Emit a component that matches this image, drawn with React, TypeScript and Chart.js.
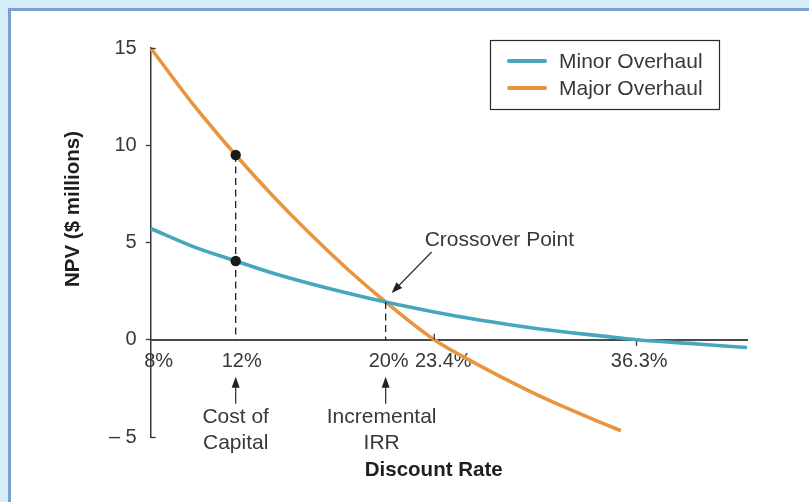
import React, { useEffect, useRef } from 'react';
import { Chart, LinearScale, registerables } from 'chart.js';

// ---------------- data ----------------
const minorRates = [8, 10, 12, 14, 16, 18, 20, 23.4, 26, 28, 30, 32, 34, 36.3, 40, 43];
const minorNPV = [5.72, 4.79, 4.05, 3.42, 2.88, 2.39, 1.94, 1.43, 1.05, 0.8, 0.57, 0.37, 0.2, 0, -0.22, -0.4];
const majorRates = [8, 10, 12, 14, 16, 18, 20, 23.4, 26, 28, 30, 32, 34, 35.3];
const majorNPV = [15, 12.1, 9.5, 7.38, 5.42, 3.6, 1.94, 0, -1.2, -2.05, -2.85, -3.57, -4.25, -4.68];
const xTicks = [8, 12, 20, 23.4, 36.3];
const yTicks = [-5, 0, 5, 10, 15];
const seriesLabels = ['Minor Overhaul', 'Major Overhaul'];
const costOfCapital = 12;
const crossoverRate = 20;
const crossoverNPV = 1.94;
const costOfCapitalNPV = [9.5, 4.05]; // major, minor at 12%

// ---------------- styles ----------------
const TEAL = '#46a6bc';
const ORANGE = '#e8953f';
const INK = '#383838';
const FONT = '"Liberation Sans", Arial, Helvetica, sans-serif';

// Non-uniform (not-to-scale) discount-rate axis, as drawn in the textbook figure.
const AXIS_KNOTS = [8, 12, 20, 23.4, 36.3, 43];
const AXIS_FRACS = [0, 0.1425, 0.394, 0.4755, 0.815, 1];
// small horizontal nudges of the x tick labels (px), as typeset in the figure
const X_LABEL_NUDGE = [8, 6, 3, 9, 2.5];

function toFrac(v: number) {
  const k = AXIS_KNOTS, f = AXIS_FRACS;
  if (v <= k[0]) return f[0] + ((v - k[0]) * (f[1] - f[0])) / (k[1] - k[0]);
  for (let i = 1; i < k.length; i++) {
    if (v <= k[i]) return f[i - 1] + ((v - k[i - 1]) * (f[i] - f[i - 1])) / (k[i] - k[i - 1]);
  }
  const n = k.length - 1;
  return f[n] + ((v - k[n]) * (f[n] - f[n - 1])) / (k[n] - k[n - 1]);
}
function fromFrac(t: number) {
  const k = AXIS_KNOTS, f = AXIS_FRACS;
  for (let i = 1; i < f.length; i++) {
    if (t <= f[i] || i === f.length - 1) return k[i - 1] + ((t - f[i - 1]) * (k[i] - k[i - 1])) / (f[i] - f[i - 1]);
  }
  return k[0];
}

class PiecewiseScale extends LinearScale {
  static id = 'piecewise';
  static defaults = (LinearScale as any).defaults;
  getPixelForValue(value: number) {
    if (value === null || value === undefined || isNaN(value)) return NaN;
    return (this as any).getPixelForDecimal(toFrac(value));
  }
  getValueForPixel(pixel: number) {
    return fromFrac((this as any).getDecimalForPixel(pixel));
  }
  _computeLabelItems(chartArea: any) {
    const items = (super._computeLabelItems as any)(chartArea);
    items.forEach((it: any, i: number) => {
      if (it && it.options && it.options.translation) {
        it.options.translation = [it.options.translation[0] + (X_LABEL_NUDGE[i] || 0), it.options.translation[1]];
      }
    });
    return items;
  }
}

Chart.register(...registerables, PiecewiseScale as any);

function drawArrow(ctx: CanvasRenderingContext2D, x1: number, y1: number, x2: number, y2: number) {
  const ang = Math.atan2(y2 - y1, x2 - x1);
  const len = 11, hw = 4;
  ctx.beginPath();
  ctx.moveTo(x1, y1);
  ctx.lineTo(x2 - Math.cos(ang) * (len - 2), y2 - Math.sin(ang) * (len - 2));
  ctx.stroke();
  ctx.beginPath();
  ctx.moveTo(x2, y2);
  ctx.lineTo(x2 - Math.cos(ang) * len - Math.sin(ang) * hw, y2 - Math.sin(ang) * len + Math.cos(ang) * hw);
  ctx.lineTo(x2 - Math.cos(ang) * len + Math.sin(ang) * hw, y2 - Math.sin(ang) * len - Math.cos(ang) * hw);
  ctx.closePath();
  ctx.fill();
}

const annotationPlugin = {
  id: 'npvAnnotations',
  afterDraw(chart: any) {
    const { ctx, chartArea } = chart;
    const xs = chart.scales.x;
    const ys = chart.scales.y;
    const y0 = ys.getPixelForValue(0);
    const xAxisPx = xs.getPixelForValue(xTicks[0]);
    ctx.save();
    ctx.fillStyle = INK;
    ctx.strokeStyle = INK;
    ctx.lineWidth = 1.3;

    // inward end ticks on the y axis (top and bottom)
    for (const v of [yTicks[yTicks.length - 1], yTicks[0]]) {
      const py = Math.round(ys.getPixelForValue(v)) + 0.5;
      ctx.beginPath();
      ctx.moveTo(xAxisPx, py);
      ctx.lineTo(xAxisPx + 5, py);
      ctx.stroke();
    }

    // small upward tick at 23.4%
    const x234 = xs.getPixelForValue(23.4);
    ctx.beginPath();
    ctx.moveTo(x234, y0);
    ctx.lineTo(x234, y0 - 6);
    ctx.stroke();

    // arrows + captions below axis
    ctx.font = `21px ${FONT}`;
    ctx.textAlign = 'center';
    ctx.textBaseline = 'middle';
    const xc = xs.getPixelForValue(costOfCapital);
    const xi = xs.getPixelForValue(crossoverRate);
    ctx.fillStyle = '#222';
    drawArrow(ctx, xc, y0 + 64, xc, y0 + 37);
    drawArrow(ctx, xi, y0 + 64, xi, y0 + 37);
    ctx.fillStyle = INK;
    ctx.fillText('Cost of', xc, y0 + 77);
    ctx.fillText('Capital', xc, y0 + 103);
    ctx.fillText('Incremental', xi - 4, y0 + 77);
    ctx.fillText('IRR', xi - 4, y0 + 103);

    // crossover label
    const cy = ys.getPixelForValue(crossoverNPV);
    ctx.fillStyle = '#222';
    drawArrow(ctx, xi + 46, cy - 50, xi + 6, cy - 9);
    ctx.fillStyle = INK;
    ctx.textAlign = 'left';
    ctx.fillText('Crossover Point', xi + 39, cy - 62);

    // axis titles
    ctx.fillStyle = '#1e1e1e';
    ctx.font = `bold 20.5px ${FONT}`;
    ctx.textAlign = 'center';
    ctx.fillText('Discount Rate', chartArea.left + 283, 470);
    ctx.save();
    ctx.translate(73, 209);
    ctx.rotate(-Math.PI / 2);
    ctx.fillText('NPV ($ millions)', 0, 0);
    ctx.restore();

    // legend box
    ctx.lineWidth = 1.2;
    ctx.strokeStyle = '#2a2a2a';
    ctx.strokeRect(490.5, 40.5, 229, 69);
    const items = [
      { label: chart.data.datasets[3].label, color: chart.data.datasets[3].borderColor, y: 61 },
      { label: chart.data.datasets[4].label, color: chart.data.datasets[4].borderColor, y: 88 },
    ];
    ctx.lineCap = 'round';
    ctx.font = `21px ${FONT}`;
    ctx.textAlign = 'left';
    for (const it of items) {
      ctx.strokeStyle = it.color;
      ctx.lineWidth = 4;
      ctx.beginPath();
      ctx.moveTo(509, it.y);
      ctx.lineTo(545, it.y);
      ctx.stroke();
      ctx.fillStyle = INK;
      ctx.fillText(it.label, 559, it.y + 1);
    }
    ctx.restore();
  },
};

export default function App() {
  const ref = useRef<HTMLCanvasElement | null>(null);

  useEffect(() => {
    if (!ref.current) return;
    const minorData = minorRates.map((r, i) => ({ x: r, y: minorNPV[i] }));
    const majorData = majorRates.map((r, i) => ({ x: r, y: majorNPV[i] }));
    const chart = new Chart(ref.current, {
      type: 'line',
      data: {
        datasets: [
          {
            type: 'scatter',
            label: 'points',
            data: costOfCapitalNPV.map((v) => ({ x: costOfCapital, y: v })),
            pointRadius: 5.2,
            pointBackgroundColor: '#1a1a1a',
            pointBorderWidth: 0,
            showLine: false,
          } as any,
          {
            label: 'cocLine',
            data: [
              { x: costOfCapital, y: costOfCapitalNPV[0] },
              { x: costOfCapital, y: 0 },
            ],
            borderColor: '#222',
            borderWidth: 1.3,
            borderDash: [7, 4.5],
            pointRadius: 0,
          },
          {
            label: 'irrLine',
            data: [
              { x: crossoverRate, y: crossoverNPV },
              { x: crossoverRate, y: 0 },
            ],
            borderColor: '#222',
            borderWidth: 1.3,
            borderDash: [7, 4.5],
            pointRadius: 0,
          },
          {
            label: seriesLabels[0],
            data: minorData,
            borderColor: TEAL,
            borderWidth: 3.6,
            pointRadius: 0,
            cubicInterpolationMode: 'monotone',
            clip: false,
          } as any,
          {
            label: seriesLabels[1],
            data: majorData,
            borderColor: ORANGE,
            borderWidth: 3.6,
            pointRadius: 0,
            cubicInterpolationMode: 'monotone',
            clip: false,
          } as any,
        ],
      },
      options: {
        responsive: false,
        maintainAspectRatio: false,
        animation: false,
        events: [],
        layout: { padding: { left: 0, top: 48, right: 62, bottom: 65 } },
        plugins: { legend: { display: false }, tooltip: { enabled: false } },
        scales: {
          x: {
            type: 'piecewise' as any,
            min: 8,
            max: 43,
            position: { y: 0 } as any,
            afterBuildTicks: (s: any) => {
              s.ticks = xTicks.map((v) => ({ value: v }));
            },
            ticks: {
              autoSkip: false,
              maxRotation: 0,
              padding: 5,
              color: INK,
              font: { family: FONT, size: 20 },
              callback: (v: any) => `${v}%`,
            },
            grid: {
              drawOnChartArea: false,
              tickLength: 5,
              tickWidth: 1.3,
              tickColor: (c: any) => (c.tick && c.tick.value === 36.3 ? INK : 'rgba(0,0,0,0)'),
            },
            border: { display: true, color: '#4a4a4a', width: 2 },
          },
          y: {
            type: 'linear',
            min: -5,
            max: 15,
            afterBuildTicks: (s: any) => {
              s.ticks = yTicks.map((v) => ({ value: v }));
            },
            afterFit: (s: any) => {
              s.width = 150.7;
            },
            ticks: {
              padding: 9,
              color: INK,
              font: { family: FONT, size: 20 },
              callback: (v: any) => (v < 0 ? `– ${Math.abs(v)}` : `${v}`),
            },
            grid: {
              drawOnChartArea: false,
              tickLength: 5,
              tickWidth: 1.3,
              tickColor: (c: any) =>
                c.tick && (c.tick.value === 15 || c.tick.value === -5) ? 'rgba(0,0,0,0)' : INK,
            },
            border: { display: true, color: INK, width: 1.5 },
          },
        },
      },
      plugins: [annotationPlugin],
    } as any);
    return () => chart.destroy();
  }, []);

  return (
    <div
      style={{
        position: 'fixed',
        left: 0,
        top: 0,
        width: 809,
        height: 502,
        overflow: 'hidden',
        background: '#d4edf9',
      }}
    >
      <div
        style={{
          position: 'absolute',
          left: 8,
          top: 8,
          width: 830,
          height: 520,
          background: '#ffffff',
          borderLeft: '3px solid #7e9dd0',
          borderTop: '3px solid #7e9dd0',
        }}
      />
      <canvas
        ref={ref}
        width={809}
        height={502}
        style={{ position: 'absolute', left: 0, top: 0, width: 809, height: 502, display: 'block' }}
      />
    </div>
  );
}
